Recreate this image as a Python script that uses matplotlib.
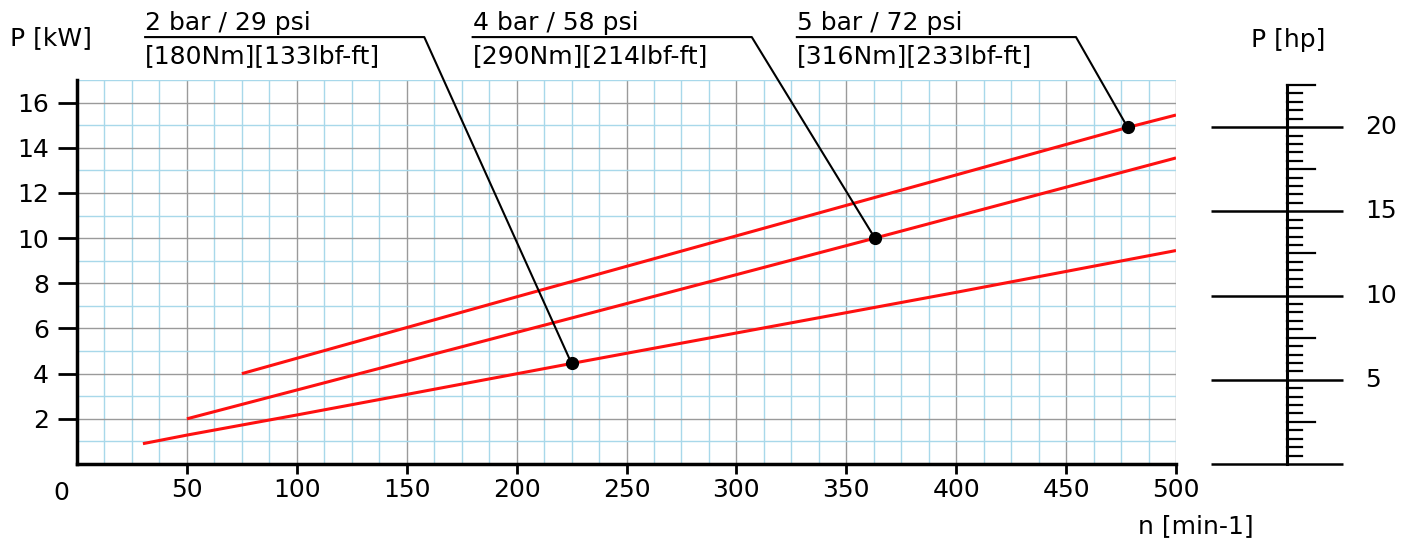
import numpy as np
import matplotlib
matplotlib.use("Agg")
from matplotlib import pyplot
from matplotlib.ticker import MultipleLocator

pyplot.rcParams['font.family'] = ['DejaVu Sans']

# speed n [min-1] and power P [kW] for each pressure curve
n_2bar = [30, 50, 100, 150, 225, 300, 400, 500]
p_2bar = [0.9, 1.28, 2.17, 3.08, 4.45, 5.8, 7.6, 9.45]
n_4bar = [50, 150, 250, 363, 500]
p_4bar = [2.0, 4.55, 7.1, 10.0, 13.55]
n_5bar = [75, 200, 350, 478, 500]
p_5bar = [4.0, 7.4, 11.45, 14.9, 15.45]

# operating points marked on the curves
mark_n = [225, 363, 478]
mark_p = [4.45, 10.0, 14.9]
mark_title = ['2 bar / 29 psi', '4 bar / 58 psi', '5 bar / 72 psi']
mark_torque = ['[180Nm][133lbf-ft]', '[290Nm][214lbf-ft]', '[316Nm][233lbf-ft]']
label_x = [31, 180, 327.5]

hp_major = [0, 5, 10, 15, 20]
KW_PER_HP = 0.7457

FS = 18
fig = pyplot.figure(figsize=(14.12, 5.44), dpi=100)
ax = fig.add_axes([77 / 1412, 1 - 464 / 544, (1176 - 77) / 1412, (464 - 80) / 544])

ax.set_xlim(0, 500)
ax.set_ylim(0, 17)
ax.set_xticks(range(50, 501, 50))
ax.xaxis.set_minor_locator(MultipleLocator(12.5))
ax.set_yticks(range(2, 17, 2))
ax.yaxis.set_minor_locator(MultipleLocator(1))
ax.grid(which='minor', color='#a8d8ea', lw=1.0)
ax.grid(which='major', color='#9a9a9a', lw=1.0)
ax.set_axisbelow(True)
ax.tick_params(which='major', direction='out', length=7, width=2, color='black',
               labelsize=FS, pad=3)
ax.tick_params(axis='y', length=14, pad=6)
ax.tick_params(which='minor', length=0)
for s in ['top', 'right']:
    ax.spines[s].set_visible(False)
for s in ['left', 'bottom']:
    ax.spines[s].set_linewidth(2.5)
ax.text(-7, -0.75, '0', fontsize=FS, ha='center', va='top', clip_on=False)

for n, p in [(n_2bar, p_2bar), (n_4bar, p_4bar), (n_5bar, p_5bar)]:
    ax.plot(n, p, color='#ff1010', lw=2.2, solid_capstyle='butt')
ax.plot(mark_n, mark_p, 'o', color='black', ms=8.5, zorder=5)

# labels with underline and leader line
y_ul = 18.9
for i in range(3):
    x0 = label_x[i]
    x1 = x0 + 127
    ax.plot([x0, x1, mark_n[i]], [y_ul, y_ul, mark_p[i]], color='black', lw=1.5,
            clip_on=False, zorder=4)
    ax.text(x0, y_ul + 0.3, mark_title[i], fontsize=FS, ha='left', va='baseline', clip_on=False)
    ax.text(x0, 17.75, mark_torque[i], fontsize=FS, ha='left', va='baseline', clip_on=False)

fig.text(10 / 1412, 1 - 38 / 544, 'P [kW]', fontsize=FS, ha='left', va='center')
fig.text(1196 / 1412, 1 - 526 / 544, 'n [min-1]', fontsize=FS, ha='center', va='center')

# hp scale
ax2 = fig.add_axes([1211 / 1412, 1 - 464 / 544, (1343 - 1211) / 1412, (464 - 80) / 544])
ax2.set_xlim(0, 132)
ax2.set_ylim(0, 17 / KW_PER_HP)
ax2.axis('off')
xc = 76
ax2.plot([xc, xc], [0, 22.5], color='black', lw=2.2, clip_on=False)
ax2.hlines(hp_major, 0, 132, color='black', lw=1.8, clip_on=False)
minor = np.arange(0.5, 22.6, 0.5)
for h in minor:
    if h % 5 == 0:
        continue
    ln = 28 if h % 2.5 == 0 else 15
    ax2.plot([xc, xc + ln], [h, h], color='black', lw=1.6, clip_on=False)
for h in hp_major[1:]:
    ax2.text(154, h, str(h), fontsize=FS, ha='left', va='center', clip_on=False)
fig.text(1288 / 1412, 1 - 40 / 544, 'P [hp]', fontsize=FS, ha='center', va='center')

fig.savefig('out.png', dpi=100)
